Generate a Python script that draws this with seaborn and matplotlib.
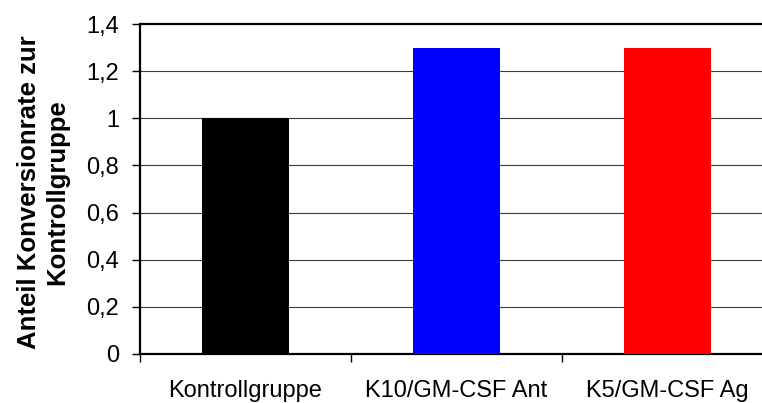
import matplotlib
matplotlib.use("Agg")
import matplotlib.pyplot as plt
from matplotlib.ticker import FixedLocator, FuncFormatter
import seaborn as sns
import pandas as pd

# Data
categories = ["Kontrollgruppe", "K10/GM-CSF Ant", "K5/GM-CSF Ag"]
values = [1.0, 1.3, 1.3]
bar_colors = ["#000000", "#0000FF", "#FF0000"]
y_ticks = [0, 0.2, 0.4, 0.6, 0.8, 1.0, 1.2, 1.4]
y_label = "Anteil Konversionrate zur\nKontrollgruppe"

sns.set_theme(style="white")
plt.rcParams["font.family"] = ["Liberation Sans", "DejaVu Sans"]
plt.rcParams["text.color"] = "black"
plt.rcParams["xtick.color"] = "black"
plt.rcParams["ytick.color"] = "black"
plt.rcParams["xtick.labelcolor"] = "black"
plt.rcParams["ytick.labelcolor"] = "black"

df = pd.DataFrame({"Gruppe": categories, "Wert": values})

fig = plt.figure(figsize=(7.62, 4.03), dpi=100)
ax = fig.add_axes([140 / 762, 49 / 403, 633 / 762, 330 / 403])

sns.barplot(data=df, x="Gruppe", y="Wert", hue="Gruppe", palette=bar_colors,
            width=0.41, saturation=1, legend=False, linewidth=0, ax=ax, zorder=3)

ax.set_xlim(-0.5, 2.5)
ax.set_ylim(0, 1.4)

# Horizontal grid lines
for t in y_ticks[1:-1]:
    ax.axhline(t, color="#3a3a3a", lw=0.8, zorder=1)
ax.axhline(1.4, color="black", lw=1.6, zorder=1, clip_on=False)

for side in ["top", "right"]:
    ax.spines[side].set_visible(False)
for side in ["left", "bottom"]:
    ax.spines[side].set_color("black")
    ax.spines[side].set_linewidth(1.6)

ax.yaxis.set_major_locator(FixedLocator(y_ticks))
ax.yaxis.set_major_formatter(FuncFormatter(lambda v, p: f"{v:g}".replace(".", ",")))
ax.tick_params(axis="y", which="major", direction="out", length=6, width=1,
               color="black", labelcolor="black", pad=9, labelsize=17, left=True)

# Category labels centred, tick marks between categories
ax.set_xticks([0, 1, 2])
ax.set_xticklabels(categories)
ax.set_xticks([-0.5, 0.5, 1.5, 2.5], minor=True)
ax.tick_params(axis="x", which="major", length=0, pad=19, labelsize=17,
               labelcolor="black")
ax.tick_params(axis="x", which="minor", direction="out", length=6, width=1,
               color="black", bottom=True)

ax.set_xlabel("")
ax.set_ylabel("")
fig.text(43 / 762, 1 - 192 / 403, y_label, rotation=90, ha="center", va="center",
         fontsize=18.5, fontweight="bold", linespacing=1.2, multialignment="center",
         color="black")

fig.savefig("out.png", dpi=100)
